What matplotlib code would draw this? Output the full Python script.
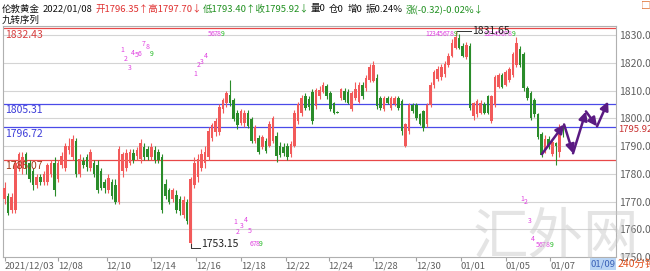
import matplotlib
matplotlib.use('Agg')
import matplotlib.pyplot as plt
import matplotlib.transforms as mtransforms
import numpy as np

plt.rcParams['font.family'] = ['Noto Sans CJK SC', 'DejaVu Sans']

# 240分钟 K线 (开, 高, 低, 收)
opens = [1771, 1772, 1767, 1767, 1782, 1782, 1787, 1784, 1781, 1776,
         1779, 1777, 1777, 1780, 1784, 1778, 1783, 1782, 1788.5, 1786,
         1792, 1780, 1784.5, 1786, 1782, 1784, 1783, 1781, 1777, 1774,
         1777, 1776, 1770, 1781, 1782, 1784, 1787.5, 1786.5, 1785.5, 1789.5,
         1789, 1786, 1788.5, 1788, 1786, 1776.5, 1774, 1771, 1772.5, 1771,
         1765, 1770, 1755, 1776, 1779, 1782, 1784, 1786, 1793, 1795,
         1795, 1803.2, 1805.5, 1808.5, 1806.7, 1802, 1798.4, 1798.4, 1802, 1799.6,
         1792, 1793, 1789.6, 1792, 1790.2, 1792, 1793.7, 1790.2, 1789.5,
         1790, 1787, 1790.2, 1799, 1802, 1807.9, 1807, 1809.6, 1804.5, 1807.9,
         1809.6, 1811.5, 1809, 1805.5, 1802.2, 1807.3, 1810, 1809.6,
         1803.2, 1807.3, 1806, 1812, 1810.8, 1813.8, 1813.5, 1814.5, 1807.3, 1803.2,
         1807.3, 1803.7, 1805, 1807.3, 1806.1, 1790, 1795.5, 1804.9, 1804.9, 1801.4,
         1802.6, 1797.9, 1804.9, 1812, 1814.3, 1815, 1816.1, 1819.1, 1822.6, 1825.5,
         1829, 1826.1, 1822, 1826, 1801, 1801.4, 1802, 1805, 1807.9, 1799,
         1804.9, 1811.4, 1815.5, 1812, 1813.8, 1815.5, 1819.1, 1824.9, 1823.2, 1810.8,
         1809, 1806.7, 1801.4, 1794.3, 1788.4, 1792.6, 1787.3, 1791,
         1788, 1796.35]
highs = [1777, 1773, 1773, 1785, 1788, 1788, 1788, 1785, 1782, 1780,
         1780, 1781, 1784, 1785, 1786, 1785, 1788, 1791, 1793, 1794,
         1793, 1787, 1786, 1787, 1789, 1785, 1785, 1782, 1778, 1780,
         1778, 1778, 1790, 1788, 1789, 1789, 1789, 1789.5, 1792.5, 1791,
         1790, 1791, 1790, 1789, 1787, 1778, 1775, 1775, 1774, 1772,
         1772, 1771, 1779, 1786, 1787, 1789, 1790, 1797, 1798.5, 1800,
         1805, 1807.5, 1810, 1813.8, 1807.5, 1803, 1803.5, 1803, 1803, 1800.5,
         1797.5, 1794, 1794, 1793, 1799, 1801, 1795, 1791.5, 1791,
         1791, 1792, 1803, 1806, 1808.5, 1809, 1808, 1810.5, 1811, 1811.5,
         1813.2, 1812.5, 1810, 1806, 1802.5, 1811, 1811, 1810.5,
         1810, 1813.2, 1813, 1813, 1815.5, 1819.5, 1820.5, 1816, 1808, 1808,
         1808, 1808, 1808, 1808, 1807, 1798.5, 1805.5, 1805.5, 1805.5, 1802,
         1803, 1805.5, 1813, 1817.5, 1819, 1819.5, 1820.5, 1823.5, 1828.5, 1831.65,
         1830.5, 1827, 1827.5, 1827, 1806, 1807, 1806.5, 1806, 1808.5, 1808.5,
         1815.5, 1816.5, 1816.5, 1817.5, 1818.5, 1824, 1829.3, 1826, 1824, 1811.5,
         1810, 1807.5, 1802, 1795, 1794, 1793.5, 1792.5, 1791.5,
         1798, 1797.70]
lows = [1769, 1765, 1766, 1766, 1781, 1780, 1780, 1777, 1774, 1775,
        1776, 1776, 1776, 1779, 1772, 1777, 1782, 1781, 1787, 1785,
        1779, 1779, 1782, 1781, 1781, 1779, 1773, 1774, 1773, 1773,
        1771, 1769, 1769, 1779, 1781, 1783, 1784, 1785, 1784, 1785,
        1785, 1785, 1784, 1784, 1766, 1771, 1769, 1770, 1766, 1765,
        1764, 1762, 1753.15, 1775, 1777, 1781, 1782, 1785, 1792, 1793.5,
        1794, 1802, 1804, 1804.5, 1799, 1796, 1797.5, 1797, 1796.5, 1791,
        1791, 1787, 1789, 1787.5, 1789.5, 1791, 1784.3, 1786, 1786.5,
        1785, 1786, 1789.5, 1798, 1801, 1803, 1803, 1798, 1803.5, 1807,
        1809, 1807, 1802.5, 1801.5, 1801.8, 1806.5, 1806, 1805,
        1802.5, 1806.5, 1805.5, 1807, 1810, 1813, 1813, 1803.5, 1803, 1802.5,
        1805, 1803, 1804.5, 1803, 1794, 1789.6, 1794.5, 1802, 1799.5, 1797.5,
        1795.5, 1797, 1804, 1811, 1813.5, 1814, 1815, 1818.5, 1822, 1825,
        1825, 1822, 1821.5, 1803, 1799.5, 1800.5, 1801.5, 1801.5, 1801.5, 1798.5,
        1804, 1811, 1811, 1811.5, 1813, 1815, 1818.5, 1818.5, 1810, 1806.5,
        1799.5, 1800.5, 1792.5, 1786, 1787.5, 1789, 1786.5, 1783.1,
        1786, 1793.40]
closes = [1775, 1766, 1771.5, 1784, 1787, 1786, 1782, 1778, 1776, 1779,
          1777, 1780, 1783, 1784, 1774, 1784, 1786.5, 1790, 1790.2, 1792.5,
          1780, 1785.5, 1783, 1782.5, 1788, 1780, 1774, 1775, 1775, 1778.5,
          1772, 1770, 1789, 1787, 1787.5, 1788, 1785, 1788.5, 1791, 1786,
          1786, 1789.5, 1785, 1785, 1767, 1772, 1770, 1774, 1767, 1766.5,
          1770.5, 1763, 1778, 1784, 1785.5, 1787, 1788, 1795.5, 1797.5, 1799,
          1804, 1806.7, 1809, 1805.5, 1799.6, 1797.5, 1802.6, 1802, 1797.3, 1792,
          1796.7, 1787.8, 1793.1, 1788.4, 1797.8, 1800.2, 1786.5, 1786.7, 1787.5,
          1786, 1790.8, 1802, 1805, 1807.3, 1803.7, 1804, 1799, 1810.2, 1810.2,
          1812, 1807.9, 1803.2, 1802, 1802, 1810.5, 1806.5, 1805.5,
          1809, 1810.5, 1812, 1807.9, 1814.5, 1818.5, 1819.1, 1804.3, 1803.7, 1807.3,
          1805.5, 1807.3, 1807.3, 1803.7, 1795.5, 1797.9, 1804.9, 1802.6, 1800.2, 1798,
          1796.5, 1804.9, 1812, 1816.7, 1817.9, 1818.5, 1819.6, 1822.6, 1827.3, 1829.5,
          1825.5, 1822.6, 1826.5, 1803.7, 1805.5, 1806.1, 1805.5, 1802, 1802, 1807.9,
          1814.9, 1815.5, 1811.4, 1816.7, 1817.9, 1823.2, 1827, 1819.1, 1810.8, 1807.3,
          1800.2, 1801.4, 1793.1, 1786.7, 1792.6, 1789.6, 1791.4, 1790,
          1797, 1795.92]

date_pos = [0, 15, 28.5, 41, 53.5, 66, 78.5, 90.5, 103, 115, 127.5, 140, 152.5]
date_labels = ['2021/12/03', '12/08', '12/10', '12/14', '12/16', '12/18', '12/22',
               '12/24', '12/28', '12/30', '01/01', '01/05', '01/07']

# 画线工具里的水平价位
red_levels = [1832.43, 1785.07]
blue_levels = [1805.31, 1796.72]

# 九转序列标记 (位置, 价格, 文字)
td_marks = [
    (32.8, 1824.7, '1'), (33.9, 1821.5, '2'), (35.1, 1818.2, '3'), (35.9, 1823.6, '4'),
    (37.0, 1822.9, '5'), (37.8, 1823.3, '6'), (39.0, 1826.8, '7'), (40.1, 1825.8, '8'),
    (41.2, 1823.3, '9'),
    (53.2, 1816.1, '1'), (54.1, 1819.3, '2'), (55.2, 1820.4, '3'), (56.3, 1822.5, '4'),
    (57.4, 1830.4, '5'), (58.2, 1830.4, '6'), (59.1, 1830.4, '7'), (59.9, 1830.4, '8'),
    (60.8, 1830.4, '9'),
    (64.4, 1762.7, '1'), (65.2, 1759.1, '2'), (66.3, 1761.3, '3'), (67.5, 1763.4, '4'),
    (68.6, 1759.5, '5'), (69.1, 1754.8, '6'), (70.0, 1754.8, '7'), (70.8, 1754.8, '8'),
    (71.6, 1754.8, '9'),
    (118.0, 1830.4, '1'), (119.0, 1830.4, '2'), (120.0, 1830.4, '3'), (121.0, 1830.4, '4'),
    (121.9, 1830.4, '5'), (122.9, 1830.4, '6'), (123.9, 1830.4, '7'), (124.9, 1830.4, '8'),
    (126.1, 1830.4, '9'),
    (134.2, 1830.4, '1'), (135.2, 1830.4, '2'), (136.2, 1830.4, '3'), (137.2, 1830.4, '4'),
    (138.1, 1830.4, '5'), (139.1, 1830.4, '6'), (140.1, 1830.4, '7'), (141.1, 1830.4, '8'),
    (142.3, 1830.4, '9'),
    (144.6, 1770.9, '1'), (145.7, 1769.9, '2'), (146.8, 1763.1, '3'), (147.6, 1756.6, '4'),
    (148.8, 1754.4, '5'), (149.6, 1754.4, '6'), (150.6, 1754.4, '7'), (151.6, 1754.4, '8'),
    (152.7, 1754.4, '9'),
]

# 预测走势箭头
path_x = [150.1, 156.3, 158.8, 162.4, 165.5, 168.6]
path_p = [1787.1, 1797.8, 1787.4, 1802.5, 1797.1, 1806.1]

UP = '#f25a5a'
DOWN = '#2a8c2a'

fig = plt.figure(figsize=(6.5, 2.71), dpi=100)
fig.patch.set_facecolor('white')
ax = fig.add_axes([3 / 650, 14 / 271, 613 / 650, 231 / 271])
ax.set_xlim(-0.42, 170.8)
ax.set_ylim(1750.5, 1833.3)

# 网格
for g in range(1760, 1831, 10):
    ax.axhline(g, color='#d4d4d4', lw=0.8, zorder=0)

for lv in red_levels:
    ax.axhline(lv, color='#e84848', lw=0.9, zorder=1)
for lv in blue_levels:
    ax.axhline(lv, color='#4a4ae8', lw=0.9, zorder=1)

o = np.array(opens)
h = np.array(highs)
l = np.array(lows)
c = np.array(closes)
x = np.arange(len(o))
col = np.where(c >= o, UP, DOWN)
ax.vlines(x, l, h, colors=col, lw=0.8, zorder=2)
body = np.maximum(np.abs(c - o), 0.35)
ax.bar(x, body, bottom=np.minimum(o, c), width=0.72, color=col, lw=0, zorder=3)

# 左侧价位标签
ytr = mtransforms.blended_transform_factory(ax.transAxes, ax.transData)
lbl_kw = dict(fontsize=7.5, va='top', ha='left', zorder=4, transform=ytr)
ax.text(0.004, red_levels[0] - 0.4, '1832.43', color='#d84040', **lbl_kw)
ax.text(0.004, blue_levels[0] - 0.4, '1805.31', color='#3c3cd8', **lbl_kw)
ax.text(0.004, blue_levels[1] - 0.4, '1796.72', color='#3c3cd8', **lbl_kw)
ax.text(0.004, red_levels[1] - 0.4, '1785.07', color='#a03818', **lbl_kw)

# 九转序列
for px, pp, t in td_marks:
    ax.text(px, pp, t, fontsize=5, color='#20b820' if t == '9' else '#e040e0',
            ha='center', va='center', zorder=5, clip_on=False)

# 最高/最低标注
i_hi = int(np.argmax(h))
i_lo = int(np.argmin(l))
ax.plot([i_hi + 0.4, i_hi + 4.3], [h[i_hi], h[i_hi]], color='#333333', lw=0.7, zorder=4)
ax.text(i_hi + 4.5, h[i_hi], f'{h[i_hi]:.2f}', fontsize=7.5, color='#222222',
        va='center', ha='left', zorder=5)
ax.plot([i_lo, i_lo, i_lo + 2.5], [l[i_lo] + 1.5, l[i_lo], l[i_lo]], color='#333333',
        lw=0.7, zorder=4)
ax.text(i_lo + 2.9, l[i_lo] + 1.6, f'{l[i_lo]:.2f}', fontsize=7.5, color='#222222',
        va='center', ha='left', zorder=5)

# 走势箭头
for k in range(len(path_x) - 1):
    ax.annotate('', xy=(path_x[k + 1], path_p[k + 1]), xytext=(path_x[k], path_p[k]),
                arrowprops=dict(arrowstyle='-|>,head_length=0.5,head_width=0.25',
                                color='#5a1a82', lw=1.8, shrinkA=0, shrinkB=0),
                zorder=6)

# 坐标轴
for s in ['top', 'left', 'bottom', 'right']:
    ax.spines[s].set_color('#b0b0b0')
    ax.spines[s].set_linewidth(0.8)
ax.yaxis.tick_right()
ax.set_yticks(range(1750, 1831, 10))
ax.set_yticklabels([f'{v:.2f}' for v in range(1750, 1831, 10)])
ax.tick_params(axis='y', length=0, pad=2, labelsize=7.5, labelcolor='#606060')
ax.set_xticks(date_pos)
ax.set_xticklabels(date_labels, ha='left')
ax.tick_params(axis='x', length=3, direction='out', color='#a0a0a0', pad=0.5,
               labelsize=6.8, labelcolor='#606060')

ax.text(1.003, closes[-1], f'{closes[-1]:.2f}', transform=ytr, fontsize=6.8,
        color='#c83030', va='center', ha='left', zorder=7, clip_on=False,
        bbox=dict(boxstyle='square,pad=0.1', fc='white', ec='none'))

# 标题行: 依次排开 (文字, 颜色, 后面的间距px)
hy = 1 - 9 / 271
parts = [
    ('伦敦黄金', '#111111', 3),
    ('2022/01/08', '#111111', 3),
    ('开1796.35↑高1797.70↓', '#e03030', 0),
    ('低1793.40↑收1795.92↓', '#209020', 1),
    ('量0', '#111111', 4),
    ('仓0', '#111111', 4),
    ('增0', '#111111', 3),
    ('振0.24%', '#111111', 3),
    ('涨(-0.32)-0.02%↓', '#209020', 0),
]
renderer = fig.canvas.get_renderer()
cur = 2
for t, cl, gap in parts:
    tx = fig.text(cur / 650, hy, t, fontsize=6.8, color=cl, va='center', ha='left')
    bb = tx.get_window_extent(renderer=renderer)
    cur = bb.x1 + gap
fig.text(2 / 650, 1 - 20 / 271, '九转序列', fontsize=6.8, color='#111111',
         va='center', ha='left')
fig.text(641 / 650, 1 - 6 / 271, '□', fontsize=7, color='#e07030', va='center', ha='left')

# 底部右侧
fig.patches.append(plt.Rectangle((590 / 650, 1 / 271), 26 / 650, 12 / 271,
                                 transform=fig.transFigure, fc='#b8d4f4', ec='none'))
fig.text(603 / 650, 7 / 271, '01/09', fontsize=6.8, color='#3a62b8', va='center', ha='center')
fig.text(618 / 650, 7 / 271, '240分钟', fontsize=7.5, color='#e0501c', va='center', ha='left')

# 水印
fig.text(556 / 650, 1 - 238 / 271, '汇外网', fontsize=40, color='#c4c4c4', alpha=0.45,
         va='center', ha='center', zorder=10)

fig.savefig('out.png', dpi=100)
plt.close(fig)
